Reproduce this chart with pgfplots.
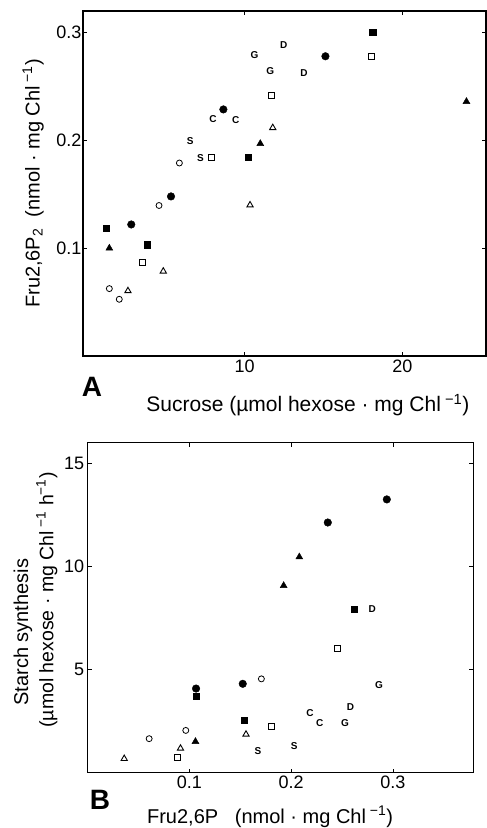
\documentclass[border=0pt]{standalone}
\usepackage{fontspec}
\setmainfont{Liberation Sans}
\usepackage{pgfplots}
\pgfplotsset{compat=1.18}
\begin{document}
\begin{tikzpicture}
\path[use as bounding box] (0pt,0pt) rectangle (487pt,828pt);
\pgfplotsset{
  every axis/.append style={
    scale only axis,
    axis line style={line width=1.2pt},
    tick style={line width=0.8pt, black},
    tick align=inside, major tick length=4pt,
    tick label style={font=\fontsize{18}{20}\selectfont},
    label style={font=\fontsize{20}{22}\selectfont},
    /pgf/number format/assume math mode=true,
    clip=false,
  },
  fsq/.style={only marks, mark=square*, mark size=3.3pt, black},
  fci/.style={only marks, mark=*, mark size=3.8pt, black},
  ftr/.style={only marks, mark=triangle*, mark size=4pt, black},
  osq/.style={only marks, mark=square, mark size=3pt, black, mark options={line width=0.9pt}},
  oci/.style={only marks, mark=o, mark size=3pt, black, mark options={line width=0.8pt}},
  otr/.style={only marks, mark=triangle, mark size=3.6pt, black, mark options={line width=0.9pt}},
  lett/.style={only marks, mark=text, text mark={#1}, text mark as node=true,
     text mark style={font=\fontsize{10}{11}\selectfont\bfseries, inner sep=0pt}},
}
% ---------------- Panel A ----------------
\begin{axis}[at={(83pt,472pt)}, anchor=south west, width=403pt, height=345pt,
  xmin=-0.25, xmax=25.3, ymin=0, ymax=0.32,
  xtick={10,20}, ytick={0.1,0.2,0.3},
  yticklabels={0.1,0.2,0.3},
  yticklabel style={xshift=2pt},
  xlabel={Sucrose (µmol hexose · mg Chl\textsuperscript{ −1})},
  ylabel={Fru2,6P\textsubscript{2}\ \ (nmol · mg Chl\textsuperscript{ −1})},
  xlabel style={at={(axis description cs:0.558,-0.142)}, anchor=center, font=\fontsize{21}{23}\selectfont},
  ylabel style={at={(axis description cs:-0.124,0.50)}, anchor=center},
]
\addplot[fsq] coordinates {(1.23,0.1185) (3.83,0.103) (10.23,0.1845) (18.1,0.3005)};
\addplot[fci] coordinates {(2.81,0.122) (5.33,0.148) (8.65,0.2287) (15.12,0.278)};
\addplot[ftr] coordinates {(1.42,0.1) (10.99,0.197) (24.06,0.236)};
\addplot[osq] coordinates {(3.51,0.087) (7.91,0.1845) (11.71,0.242) (18.01,0.2776)};
\addplot[oci] coordinates {(1.42,0.0625) (2.05,0.0526) (4.57,0.1396) (5.86,0.179)};
\addplot[otr] coordinates {(2.6,0.0604) (4.84,0.0786) (10.34,0.140) (11.78,0.2117)};
\addplot[lett=S] coordinates {(6.55,0.1996) (7.19,0.1835)};
\addplot[lett=C] coordinates {(7.99,0.22) (9.43,0.219)};
\addplot[lett=G] coordinates {(10.63,0.279) (11.63,0.264)};
\addplot[lett=D] coordinates {(12.47,0.288) (13.76,0.262)};
\node[font=\fontsize{28}{30}\selectfont\bfseries] at (axis description cs:0.022,-0.09) {A};
\end{axis}
% ---------------- Panel B ----------------
\begin{axis}[at={(87.7pt,55.3pt)}, anchor=south west, width=385.6pt, height=330pt,
  xmin=0, xmax=0.379, ymin=0, ymax=16,
  xtick={0.1,0.2,0.3}, ytick={5,10,15},
  xticklabels={0.1,0.2,0.3},
  xlabel={Fru2,6P\ \ \ (nmol · mg Chl\textsuperscript{ −1})},
  ylabel={(µmol hexose · mg Chl\textsuperscript{ −1} h\textsuperscript{−1})},
  xlabel style={at={(axis description cs:0.473,-0.134)}, anchor=center},
  ylabel style={at={(axis description cs:-0.106,0.523)}, anchor=center, font=\fontsize{19.5}{22}\selectfont},
]
\addplot[fci] coordinates {(0.1065,4.08) (0.1524,4.31) (0.236,12.13) (0.294,13.25)};
\addplot[fsq] coordinates {(0.1065,3.70) (0.1537,2.54) (0.262,7.93)};
\addplot[ftr] coordinates {(0.1059,1.51) (0.1926,9.07) (0.208,10.46)};
\addplot[osq] coordinates {(0.0885,0.73) (0.181,2.25) (0.2457,6.0)};
\addplot[oci] coordinates {(0.0604,1.65) (0.0964,2.05) (0.1707,4.55)};
\addplot[otr] coordinates {(0.0359,0.68) (0.0912,1.18) (0.1556,1.86)};
\addplot[lett=S] coordinates {(0.1674,1.05) (0.203,1.30)};
\addplot[lett=C] coordinates {(0.2185,2.91) (0.228,2.39)};
\addplot[lett=G] coordinates {(0.2529,2.39) (0.2863,4.24)};
\addplot[lett=D] coordinates {(0.2584,3.18) (0.2797,7.91)};
\node[font=\fontsize{20}{22}\selectfont, rotate=90] at (axis description cs:-0.168,0.426) {Starch synthesis};
\node[font=\fontsize{28}{30}\selectfont\bfseries] at (axis description cs:0.032,-0.083) {B};
\end{axis}
\end{tikzpicture}
\end{document}
